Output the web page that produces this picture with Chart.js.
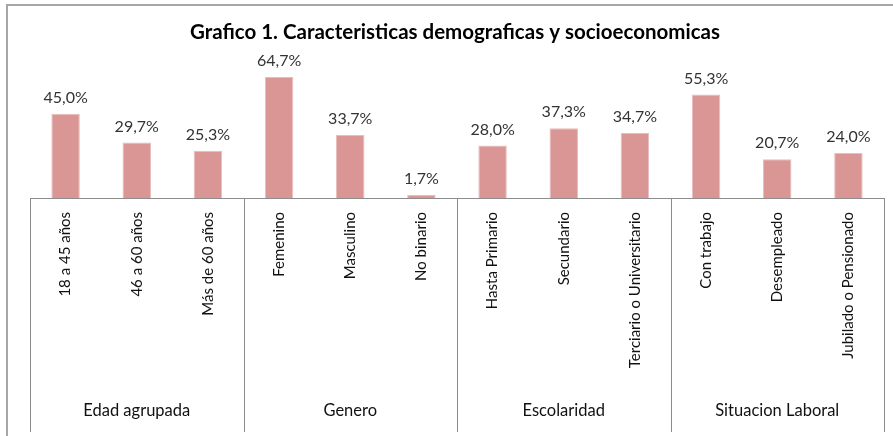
<!DOCTYPE html>
<html>
<head>
<meta charset="utf-8">
<script src="https://cdn.jsdelivr.net/npm/chart.js@4"></script>
<style>
  html, body { margin: 0; padding: 0; background: #fff; }
  #wrap { width: 893px; height: 436px; position: relative; }
</style>
</head>
<body>
<div id="wrap"><canvas id="grafico1"></canvas></div>
<script>
const titleText = 'Grafico 1. Caracteristicas demograficas y socioeconomicas';
const categories = [
  '18 a 45 años', '46 a 60 años', 'Más de 60 años',
  'Femenino', 'Masculino', 'No binario',
  'Hasta Primario', 'Secundario', 'Terciario o Universitario',
  'Con trabajo', 'Desempleado', 'Jubilado o Pensionado'
];
const groups = ['Edad agrupada', 'Genero', 'Escolaridad', 'Situacion Laboral'];
const groupSizes = [3, 3, 3, 3];
const values = [45.0, 29.7, 25.3, 64.7, 33.7, 1.7, 28.0, 37.3, 34.7, 55.3, 20.7, 24.0];

const FONT = 'Lato, "Open Sans", sans-serif';

// frame, group separators, group names, bar values and title
const decor = {
  id: 'decor',
  afterDraw(chart) {
    const { ctx, chartArea } = chart;
    const x = chart.scales.x;
    const base = chartArea.bottom;
    const bottom = 432;
    ctx.save();

    // outer frame (cut at right/bottom like the screenshot)
    ctx.strokeStyle = '#a6a6a6';
    ctx.lineWidth = 2;
    ctx.beginPath();
    ctx.moveTo(7, 436); ctx.lineTo(7, 5); ctx.lineTo(893, 5);
    ctx.stroke();

    // axis box and group separators
    ctx.strokeStyle = '#8c8c8c';
    ctx.lineWidth = 1;
    const half = (x.getPixelForValue(1) - x.getPixelForValue(0)) / 2;
    let idx = 0;
    const edges = [x.getPixelForValue(0) - half];
    groupSizes.forEach(n => { idx += n; edges.push(x.getPixelForValue(idx - 1) + half); });
    ctx.beginPath();
    ctx.moveTo(Math.round(edges[0]) + 0.5, base + 0.5);
    ctx.lineTo(Math.round(edges[edges.length - 1]) + 0.5, base + 0.5);
    edges.forEach(e => {
      ctx.moveTo(Math.round(e) + 0.5, base);
      ctx.lineTo(Math.round(e) + 0.5, bottom);
    });
    ctx.stroke();

    // group names
    ctx.fillStyle = '#111';
    ctx.font = '16.5px ' + FONT;
    ctx.textAlign = 'center';
    ctx.textBaseline = 'middle';
    groups.forEach((g, i) => ctx.fillText(g, (edges[i] + edges[i + 1]) / 2, 411));

    // value labels
    ctx.fillStyle = '#333';
    ctx.font = '16px ' + FONT;
    ctx.textBaseline = 'bottom';
    chart.getDatasetMeta(0).data.forEach((bar, i) => {
      ctx.fillText(values[i].toFixed(1).replace('.', ',') + '%', bar.x, bar.y - 8);
    });

    // title
    ctx.fillStyle = '#000';
    ctx.font = 'bold 20.5px ' + FONT;
    ctx.textBaseline = 'middle';
    ctx.fillText(titleText, 455, 32);
    ctx.restore();
  }
};

new Chart(document.getElementById('grafico1'), {
  type: 'bar',
  data: {
    labels: categories,
    datasets: [{
      data: values,
      backgroundColor: '#D99694',
      borderColor: '#E8BDBC',
      borderWidth: 1,
      categoryPercentage: 1,
      barPercentage: 0.4
    }]
  },
  options: {
    responsive: true,
    maintainAspectRatio: false,
    animation: false,
    layout: { padding: { top: 67, left: 30, right: 9, bottom: 0 } },
    plugins: {
      legend: { display: false },
      tooltip: { enabled: false },
      title: { display: false }
    },
    scales: {
      y: { display: false, min: 0, max: 70 },
      x: {
        grid: { display: false, drawTicks: false },
        border: { display: false },
        afterFit(scale) { scale.height = 238; },
        ticks: {
          minRotation: 90,
          maxRotation: 90,
          autoSkip: false,
          padding: 14,
          color: '#111',
          font: { family: FONT, size: 15 }
        }
      }
    }
  },
  plugins: [decor]
});
</script>
</body>
</html>
